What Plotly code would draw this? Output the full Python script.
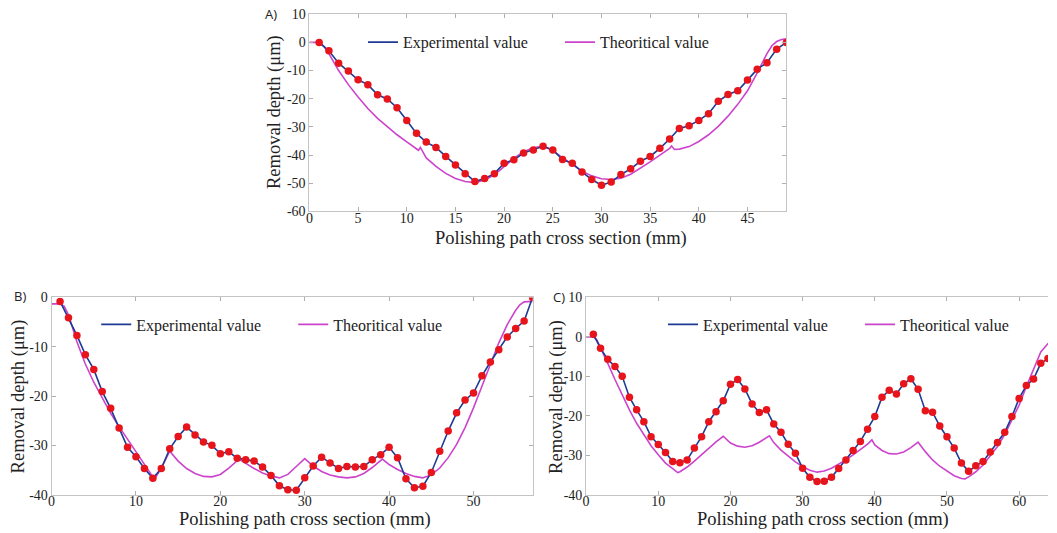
import plotly.graph_objects as go

# ---------------- Data ----------------
# Panel A
a_exp_x = list(range(1, 50))
a_exp_y = [0, -3, -7.4, -10.2, -13.3, -15, -18.6, -20.1, -23.2, -27.7,
           -32.3, -35.4, -37.3, -40.5, -43.5, -46.6, -49.4, -48.3, -46.6, -42.9,
           -41.7, -39.3, -38.2, -36.9, -38.2, -41.6, -42.9, -46, -48.7, -50.7,
           -49.6, -46.9, -44.9, -42.2, -40.5, -37.6, -34.3, -30.6, -29.6, -27.7,
           -25.3, -20.9, -18.5, -17.2, -13.4, -9.5, -7.2, -2.4, 0]
a_th_x = [0, 1, 1.5, 2, 3, 4, 5, 6, 7, 8, 9, 10, 11, 11.2, 11.4, 12, 13, 14, 15, 16,
          17, 18, 19, 20, 21, 22, 23, 24, 25, 26, 27, 28, 29, 30, 31, 32, 33, 34, 35,
          36, 37, 37.2, 37.5, 38, 39, 40, 41, 42, 43, 44, 45, 46, 47, 47.5, 48, 48.5, 49]
a_th_y = [0, 0, -1.5, -4, -10, -15, -19.4, -23.5, -27, -30, -32.8, -35.3, -37.8, -38.3, -37.3,
          -41, -44, -46.5, -48.3, -49.4, -49.8, -48.9, -47, -44.2, -41.2, -38.8, -37.4, -36.8,
          -38.4, -41, -43.4, -45.7, -47.4, -48.4, -48.7, -48.2, -46.8, -44.7, -42.4, -40, -37.6,
          -36.8, -38, -37.9, -37, -35.2, -32.8, -29.8, -26.2, -22, -17.2, -10.8, -4, -1.2, 0.3,
          1, 1.3]

# Panel B
b_exp_x = list(range(1, 58))
b_exp_y = [-0.8, -4.1, -7.7, -11.6, -14.6, -19.1, -22.5, -26.5, -30.4, -32.3,
           -34.7, -36.7, -34.7, -30.7, -28.2, -26.3, -27.9, -29.3, -30, -31.7,
           -31.3, -32.6, -32.9, -33.2, -34.4, -36.1, -38.2, -39, -39.1, -36.6,
           -34.2, -32.4, -33.6, -34.7, -34.3, -34.4, -34.3, -32.9, -31.9, -30.4,
           -32.5, -36.8, -38.6, -38.3, -35.5, -31.2, -27.1, -23.4, -20.8, -19.4,
           -15.9, -13.1, -10.6, -8, -6.3, -4.8, 0]
b_th_x = [0, 1, 1.5, 2, 3, 4, 5, 6, 7, 8, 9, 10, 11, 12, 12.3, 13, 14, 15, 16, 17, 18,
          19, 20, 21, 22.2, 23, 24, 25, 26, 27, 28, 29, 30, 31, 32, 33, 34, 35, 36, 37,
          38, 39.2, 40, 41, 42, 43, 44, 45, 46, 47, 48, 49, 50, 51, 52, 53, 54, 55, 55.5,
          56, 57]
b_th_y = [-1.3, -1.3, -1.8, -3.5, -9, -13.5, -17.2, -20.5, -23.5, -26.2, -28.8, -31.2,
          -33.8, -36.4, -36.6, -34.6, -31.2, -33.2, -34.7, -35.7, -36.3, -36.4, -35.9,
          -34.6, -32.8, -33.7, -34.7, -35.6, -36.2, -36.6, -35.9, -34.3, -32.7, -34.2,
          -35.3, -36, -36.4, -36.6, -36.4, -35.7, -34.5, -32.8, -33.9, -34.9, -35.7,
          -36.3, -36.6, -36, -34.6, -32.5, -29.8, -26.4, -22.4, -18, -13.4, -9.2, -5.5,
          -2.6, -1.5, -0.9, -0.8]

# Panel C
c_exp_x = list(range(1, 65))
c_exp_y = [0.7, -2.9, -5.7, -7.5, -10, -15.3, -18.5, -21.5, -25.3, -27.3,
           -29.3, -31.6, -31.9, -31.2, -28.2, -25.3, -21.5, -19, -16.2, -12,
           -10.8, -13.2, -17, -19.2, -18.5, -22.1, -24.2, -27.2, -29.5, -33.3,
           -35.6, -36.7, -36.6, -35.6, -33.4, -31.2, -28.8, -26.5, -23.4, -20.2,
           -15.3, -13.5, -14.5, -11.9, -10.6, -13.3, -18.7, -19.1, -22.6, -25.3,
           -28.2, -32, -34.1, -32.7, -31.6, -29.2, -26.8, -24.2, -20.2, -15.6,
           -12.3, -10.7, -6.7, -5.5]
c_th_x = [0, 1, 1.5, 2, 3, 4, 5, 6, 7, 8, 9, 10, 11, 12, 12.7, 13, 14, 15, 16, 17, 18,
          19, 20, 21, 22, 23, 24, 25.4, 26, 27, 28, 29, 30, 31, 32, 33, 34, 35, 36, 37,
          38, 39, 39.6, 40, 41, 42, 43, 44, 45, 46, 47, 48, 49, 50, 51, 52, 52.5, 53, 54,
          55, 56, 57, 58, 59, 60, 61, 62, 63, 64, 65]
c_th_y = [0, 0, -0.8, -2.9, -6.7, -10.8, -14.7, -18.5, -21.9, -24.8, -27.6, -29.9, -32,
          -33.4, -34.4, -34.2, -33, -31.5, -29.8, -28.1, -26.6, -25.2, -26.9, -27.7, -28,
          -27.6, -26.7, -25.1, -26.8, -28.7, -30.3, -31.7, -32.9, -33.8, -34.3, -34,
          -33.3, -32.3, -31.2, -29.9, -28.6, -27.2, -26.1, -27.4, -28.8, -29.6, -29.7,
          -29.2, -28.1, -26.7, -29.1, -31.2, -32.8, -34.1, -35.2, -35.9, -36, -35.5,
          -34.2, -32.5, -30.3, -27.8, -24.8, -21.1, -17.3, -12.6, -8.4, -3.8, -1.7, -0.5]

# tick labels
a_xticks = [0, 5, 10, 15, 20, 25, 30, 35, 40, 45]
a_yticks = [-60, -50, -40, -30, -20, -10, 0, 10]
b_xticks = [0, 10, 20, 30, 40, 50]
b_yticks = [-40, -30, -20, -10, 0]
c_xticks = [0, 10, 20, 30, 40, 50, 60]
c_yticks = [-40, -30, -20, -10, 0, 10]

exp_name = "Experimental value"
th_name = "Theoritical value"

# ---------------- Styles ----------------
W, H = 1057, 533
NAVY = "#1f3a93"
MAGENTA = "#cc44cc"
RED = "#e8141c"
SERIF = "Liberation Serif, Times New Roman, serif"

# calibration of the photographed page (observed offset/scale)
X_SCALE = 0.996
Y_OFF, Y_SCALE = 7.8, 0.971


def px_x(p):
    return min(1.0, (p / X_SCALE) / W)


def px_y(p):
    d = (p - Y_OFF) / Y_SCALE
    return 1 - d / H


def labels(vals):
    return [str(v) for v in vals]  # plain hyphen minus like the original


fig = go.Figure()

panels = [
    ("", "", "legend", a_exp_x, a_exp_y, a_th_x, a_th_y),
    ("2", "2", "legend2", b_exp_x, b_exp_y, b_th_x, b_th_y),
    ("3", "3", "legend3", c_exp_x, c_exp_y, c_th_x, c_th_y),
]

for xs, ys, leg, ex, ey, tx, ty in panels:
    xa = "x" + xs
    ya = "y" + ys
    fig.add_trace(go.Scatter(x=tx, y=ty, mode="lines", name=th_name,
                             line=dict(color=MAGENTA, width=1.6),
                             xaxis=xa, yaxis=ya, legend=leg, legendrank=2))
    fig.add_trace(go.Scatter(x=ex, y=ey, mode="lines", name=exp_name,
                             line=dict(color=NAVY, width=1.6),
                             xaxis=xa, yaxis=ya, legend=leg, legendrank=1))
    fig.add_trace(go.Scatter(x=ex, y=ey, mode="markers", name=exp_name,
                             marker=dict(color=RED, size=7.5, line=dict(width=0)),
                             xaxis=xa, yaxis=ya, showlegend=False))

axis_common = dict(showline=True, linecolor="#c4c4c4", linewidth=1,
                   ticks="inside", ticklen=4, tickcolor="#b0b0b0", showgrid=False,
                   zeroline=False, tickfont=dict(family=SERIF, size=14, color="#222"))
xaxis_extra = dict(ticklabelstandoff=-6, mirror="ticks")

fig.update_layout(
    width=W, height=H,
    margin=dict(l=0, r=0, t=0, b=0),
    paper_bgcolor="white", plot_bgcolor="white",
    # Panel A
    xaxis=dict(domain=[px_x(308), px_x(789)], range=[0, 49], tickvals=a_xticks,
               ticktext=labels(a_xticks), anchor="y", **axis_common, **xaxis_extra),
    yaxis=dict(domain=[px_y(212), px_y(15)], range=[-60, 10], tickvals=a_yticks,
               ticktext=labels(a_yticks), anchor="x", mirror="ticks", **axis_common),
    # Panel B
    xaxis2=dict(domain=[px_x(48), px_x(533)], range=[0, 57], tickvals=b_xticks,
                ticktext=labels(b_xticks), anchor="y2", **axis_common, **xaxis_extra),
    yaxis2=dict(domain=[px_y(495), px_y(298)], range=[-40, 0], tickvals=b_yticks,
                ticktext=labels(b_yticks), anchor="x2", mirror="ticks", **axis_common),
    # Panel C (its right edge is cut by the picture border)
    xaxis3=dict(domain=[px_x(587), 1.0], range=[0, 64], tickvals=c_xticks,
                ticktext=labels(c_xticks), anchor="y3", **axis_common, **xaxis_extra),
    yaxis3=dict(domain=[px_y(495), px_y(298)], range=[-40, 10], tickvals=c_yticks,
                ticktext=labels(c_yticks), anchor="x3", mirror=False, **axis_common),
    showlegend=True,
)

leg_common = dict(orientation="h", bgcolor="rgba(0,0,0,0)", borderwidth=0,
                  font=dict(family=SERIF, size=16, color="#222"),
                  entrywidth=152, entrywidthmode="pixels", traceorder="normal",
                  xanchor="left", yanchor="middle")
fig.update_layout(
    legend=dict(x=px_x(362), y=px_y(43), **leg_common),
    legend2=dict(x=px_x(93), y=px_y(325), **leg_common),
    legend3=dict(x=px_x(665), y=px_y(325), **leg_common),
)

ann = []
title_font = dict(family=SERIF, size=18.5, color="#222")
# y titles
for xp, yp in [(273, 113), (15, 397), (557, 397)]:
    ann.append(dict(text="Removal depth (μm)", x=px_x(xp), y=px_y(yp), xref="paper", yref="paper",
                    textangle=-90, showarrow=False, font=title_font,
                    xanchor="center", yanchor="middle"))
# x titles
for xp, yp in [(562, 239), (304, 519.5), (826, 519.5)]:
    ann.append(dict(text="Polishing path cross section (mm)", x=px_x(xp), y=px_y(yp), xref="paper",
                    yref="paper", showarrow=False, font=title_font,
                    xanchor="center", yanchor="middle", borderpad=0))
# panel labels
for lab, xp, yp in [("A)", 269, 15), ("B)", 16, 297), ("C)", 560, 298)]:
    ann.append(dict(text=lab, x=px_x(xp), y=px_y(yp), xref="paper", yref="paper", showarrow=False,
                    font=dict(family="Open Sans, Liberation Sans, sans-serif", size=13, color="#222"),
                    xanchor="center", yanchor="middle"))
fig.update_layout(annotations=ann)

page_css = ("var s=document.documentElement.style;s.margin='0';s.padding='0';s.overflow='hidden';"
            "var b=document.body.style;b.margin='0';b.padding='0';b.overflow='hidden';")

fig.write_html("out.html", config={"displayModeBar": False},
               post_script=page_css)
